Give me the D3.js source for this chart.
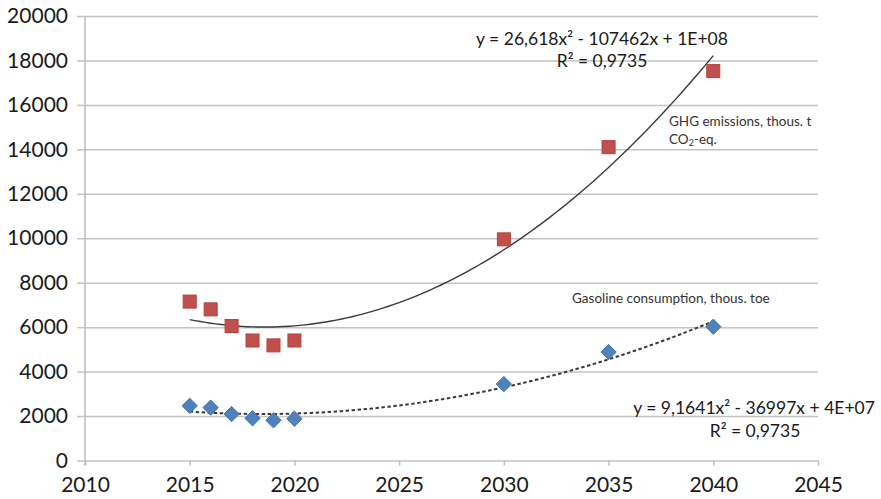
<!DOCTYPE html>
<html>
<head>
<meta charset="utf-8">
<script src="https://cdn.jsdelivr.net/npm/d3@7"></script>
<style>
  html, body { margin: 0; padding: 0; background: #fff; }
  svg { display: block; font-family: Lato, "Open Sans", sans-serif; }
</style>
</head>
<body>
<svg id="chart" width="881" height="499"></svg>
<script>
// Years of observation / projection
const years = [2015, 2016, 2017, 2018, 2019, 2020, 2030, 2035, 2040];
// GHG emissions, thous. t CO2-eq.
const ghg = [7150, 6800, 6050, 5400, 5180, 5400, 9950, 14100, 17520];
// Gasoline consumption, thous. toe
const gasoline = [2460, 2380, 2090, 1900, 1810, 1880, 3440, 4880, 6020];

const xTicks = [2010, 2015, 2020, 2025, 2030, 2035, 2040, 2045];
const yTicks = [0, 2000, 4000, 6000, 8000, 10000, 12000, 14000, 16000, 18000, 20000];

const ghgEquation = "y = 26,618x² - 107462x + 1E+08";
const gasEquation = "y = 9,1641x² - 36997x + 4E+07";
const rSquared = "R² = 0,9735";

const svg = d3.select("#chart");
const plotLeft = 85, plotRight = 818, plotTop = 16, plotBottom = 460.5;

const x = d3.scaleLinear().domain([2010, 2045]).range([plotLeft, plotRight]);
const y = d3.scaleLinear().domain([0, 20000]).range([plotBottom, plotTop]);

// Horizontal gridlines with left tick stubs
svg.append("g")
  .attr("transform", `translate(${plotLeft},0)`)
  .call(d3.axisLeft(y).tickValues(yTicks).tickSize(8).tickFormat(d => d).tickPadding(9))
  .call(g => g.select(".domain").remove())
  .call(g => g.selectAll(".tick line").clone()
      .attr("x2", plotRight - plotLeft)
      .attr("stroke", "#c4c4c4").attr("stroke-width", 1.5))
  .call(g => g.selectAll(".tick line").attr("stroke", "#c4c4c4").attr("stroke-width", 1.5))
  .call(g => g.selectAll(".tick text")
      .attr("font-size", 21).attr("fill", "#1a1a1a").attr("font-family", "Lato, sans-serif"));

// Vertical axis line
svg.append("line")
  .attr("x1", plotLeft).attr("x2", plotLeft).attr("y1", plotTop).attr("y2", plotBottom + 5)
  .attr("stroke", "#bcbcbc").attr("stroke-width", 1.5);

// Bottom axis ticks and labels
svg.append("g")
  .attr("transform", `translate(0,${plotBottom})`)
  .call(d3.axisBottom(x).tickValues(xTicks).tickSize(5).tickFormat(d => d).tickPadding(12))
  .call(g => g.select(".domain").remove())
  .call(g => g.selectAll(".tick line").attr("stroke", "#bcbcbc").attr("stroke-width", 1.5))
  .call(g => g.selectAll(".tick text")
      .attr("font-size", 21).attr("fill", "#1a1a1a").attr("font-family", "Lato, sans-serif"));

// Least-squares quadratic trend through the series
function quadFit(xs, ys) {
  const c = 2025;
  const u = xs.map(v => v - c);
  const S = k => d3.sum(u, v => Math.pow(v, k));
  const T = k => d3.sum(u, (v, i) => Math.pow(v, k) * ys[i]);
  const A = [[S(4), S(3), S(2)], [S(3), S(2), S(1)], [S(2), S(1), u.length]];
  const b = [T(2), T(1), T(0)];
  // Gaussian elimination
  for (let i = 0; i < 3; i++) {
    for (let j = i + 1; j < 3; j++) {
      const f = A[j][i] / A[i][i];
      for (let k = i; k < 3; k++) A[j][k] -= f * A[i][k];
      b[j] -= f * b[i];
    }
  }
  const s = [0, 0, 0];
  for (let i = 2; i >= 0; i--) {
    let acc = b[i];
    for (let k = i + 1; k < 3; k++) acc -= A[i][k] * s[k];
    s[i] = acc / A[i][i];
  }
  return t => s[0] * (t - c) * (t - c) + s[1] * (t - c) + s[2];
}

const trendX = d3.range(2015, 2040.001, 0.25);
const line = d3.line().x(d => x(d[0])).y(d => y(d[1])).curve(d3.curveLinear);

const ghgFit = quadFit(years, ghg);
const gasFit = quadFit(years, gasoline);

svg.append("path")
  .attr("d", line(trendX.map(t => [t, ghgFit(t)])))
  .attr("fill", "none").attr("stroke", "#3a3a3a").attr("stroke-width", 1.4);

svg.append("path")
  .attr("d", line(trendX.map(t => [t, gasFit(t)])))
  .attr("fill", "none").attr("stroke", "#3a3a3a").attr("stroke-width", 2)
  .attr("stroke-dasharray", "3.5,2.5");

// GHG markers (squares)
const sq = 13;
svg.append("g").selectAll("rect")
  .data(years.map((yr, i) => [yr, ghg[i]]))
  .join("rect")
  .attr("x", d => x(d[0]) - sq / 2).attr("y", d => y(d[1]) - sq / 2)
  .attr("width", sq).attr("height", sq)
  .attr("fill", "#c0504d").attr("stroke", "#b5403d").attr("stroke-width", 1);

// Gasoline markers (diamonds)
const diamond = d3.symbol().type(d3.symbolDiamond2).size(150);
svg.append("g").selectAll("path")
  .data(years.map((yr, i) => [yr, gasoline[i]]))
  .join("path")
  .attr("transform", d => `translate(${x(d[0])},${y(d[1])})`)
  .attr("d", diamond)
  .attr("fill", "#4f81bd").attr("stroke", "#4575b0").attr("stroke-width", 1);

// Trend equations
const eqFont = 17.5;
svg.append("text").attr("x", 602).attr("y", 45).attr("text-anchor", "middle")
  .attr("font-size", eqFont).attr("fill", "#1a1a1a").text(ghgEquation);
svg.append("text").attr("x", 602).attr("y", 67).attr("text-anchor", "middle")
  .attr("font-size", eqFont).attr("fill", "#1a1a1a").text(rSquared);

svg.append("text").attr("x", 754).attr("y", 414).attr("text-anchor", "middle")
  .attr("font-size", eqFont).attr("fill", "#1a1a1a").text(gasEquation);
svg.append("text").attr("x", 755).attr("y", 437).attr("text-anchor", "middle")
  .attr("font-size", eqFont).attr("fill", "#1a1a1a").text(rSquared);

// Series labels
const lblFont = 13.5;
svg.append("text").attr("x", 669).attr("y", 126)
  .attr("font-size", lblFont).attr("fill", "#333").text("GHG emissions, thous. t");
const co2 = svg.append("text").attr("x", 669).attr("y", 144)
  .attr("font-size", lblFont).attr("fill", "#333");
co2.append("tspan").text("CO");
co2.append("tspan").attr("font-size", 9).attr("dy", 2).text("2");
co2.append("tspan").attr("dy", -2).text("-eq.");

svg.append("text").attr("x", 572).attr("y", 303)
  .attr("font-size", lblFont).attr("fill", "#333").text("Gasoline consumption, thous. toe");
</script>
</body>
</html>
